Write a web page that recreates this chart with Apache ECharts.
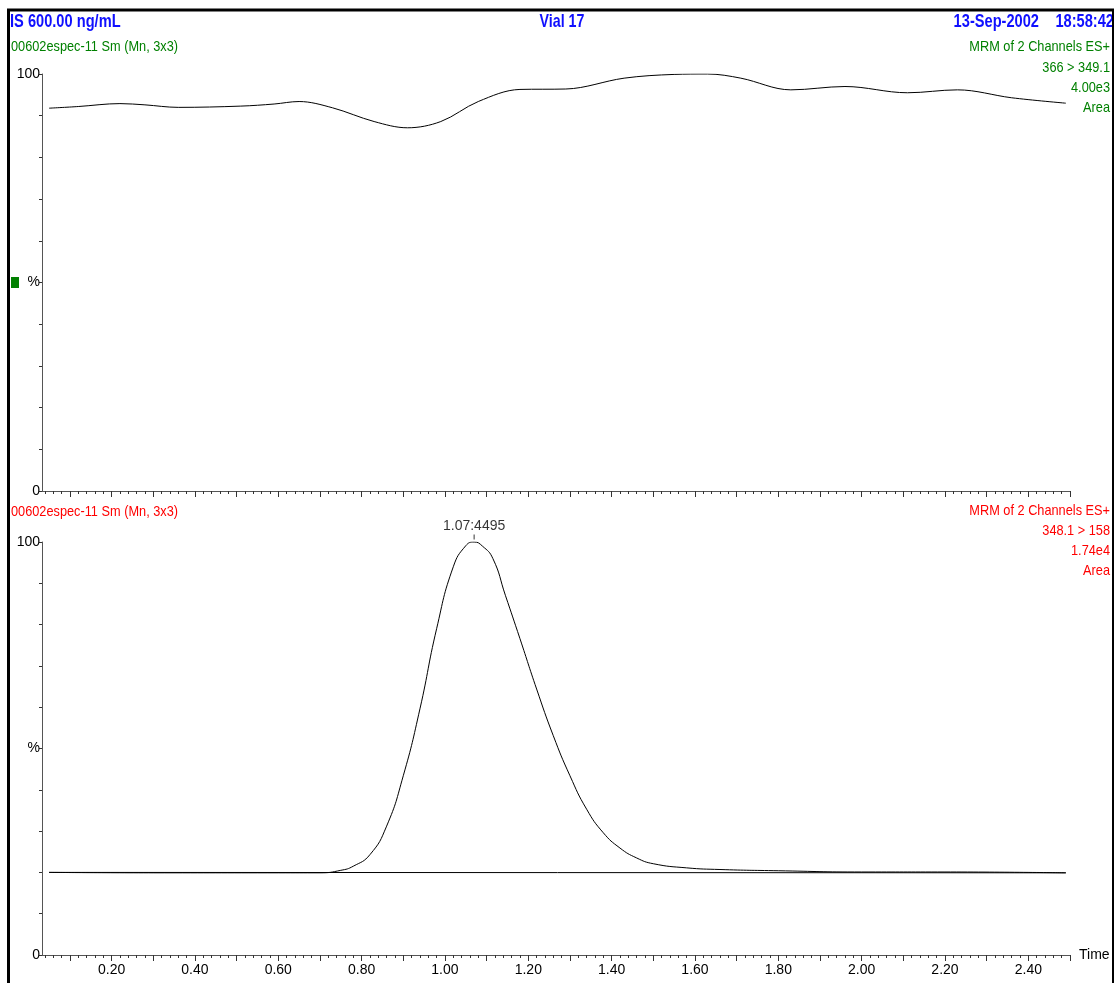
<!DOCTYPE html>
<html>
<head>
<meta charset="utf-8">
<script src="https://cdn.jsdelivr.net/npm/echarts@6/dist/echarts.min.js"></script>
<style>html,body{margin:0;padding:0;background:#fff}#chart{width:1114px;height:983px}</style>
</head>
<body>
<div id="chart"></div>
<script>
// ---- data ----
var topTimes  = [0.05, 0.12, 0.22, 0.28, 0.36, 0.51, 0.59, 0.65, 0.73, 0.83, 0.91, 0.99, 1.08, 1.18, 1.29, 1.43, 1.55, 1.63, 1.71, 1.83, 1.96, 2.11, 2.23, 2.36, 2.49];
var topValues = [91.8, 92.2, 92.9, 92.6, 92.0, 92.3, 92.8, 93.4, 91.9, 88.6, 87.1, 88.6, 93.4, 96.3, 96.4, 99.0, 99.9, 100, 99.0, 96.2, 97.0, 95.5, 96.2, 94.3, 93.0];

var botTimes  = [0.05, 0.30, 0.60, 0.70, 0.75, 0.78, 0.82, 0.86, 0.90, 0.94, 0.98, 1.02, 1.05, 1.07, 1.09, 1.115, 1.145, 1.18, 1.22, 1.26, 1.30, 1.34, 1.38, 1.42, 1.46, 1.50, 1.58, 1.66, 1.80, 2.00, 2.20, 2.49];
var botValues = [20.0, 19.9, 19.9, 19.9, 20.5, 21.5, 24.3, 31.2, 43.4, 59.6, 79.0, 94.0, 99.1, 100, 99.0, 96.0, 87.1, 76.6, 64.4, 53.1, 43.4, 35.3, 29.6, 25.9, 23.5, 22.1, 21.1, 20.7, 20.4, 20.1, 20.1, 19.9];

var baseTimes  = [0.05, 2.49];
var baseValues = [20.0, 19.9];

var peakTime = 1.07, peakValue = 100;
var peakLabel = '1.07:4495';
var xLabelValues = [0.20, 0.40, 0.60, 0.80, 1.00, 1.20, 1.40, 1.60, 1.80, 2.00, 2.20, 2.40];
var yLabelText = {0: '0', 50: '%', 100: '100'};

var topHeader = {left: 'IS 600.00 ng/mL', center: 'Vial 17', date: '13-Sep-2002', time: '18:58:42'};
var topSub = '00602espec-11 Sm (Mn, 3x3)';
var topRight = ['MRM of 2 Channels ES+', '366 > 349.1', '4.00e3', 'Area'];
var botSub = '00602espec-11 Sm (Mn, 3x3)';
var botRight = ['MRM of 2 Channels ES+', '348.1 > 158', '1.74e4', 'Area'];

// ---- helpers ----
var FONT = "'Liberation Sans',Arial,sans-serif";
var X_MIN = 0.033, X_MAX = 2.50;
var majorTicks = [], minorTicks = [];
for (var k = 1; k <= 25; k++) majorTicks.push(+(k * 0.1).toFixed(2));
for (var m = 2; m <= 125; m++) minorTicks.push(+(m * 0.02).toFixed(2));

function pairs(ts, vs) { return ts.map(function (t, i) { return [t, vs[i]]; }); }

var AX = '#555';
function mainX(gi, showLabels, name) {
  return {
    type: 'value', gridIndex: gi, min: X_MIN, max: X_MAX, position: 'bottom',
    axisLine: {show: true, onZero: false, lineStyle: {color: AX, width: 1}},
    axisTick: {show: true, length: 6, customValues: majorTicks, lineStyle: {color: '#333'}},
    axisLabel: {show: showLabels, customValues: xLabelValues, margin: 8,
      formatter: function (v) { return v.toFixed(2); },
      color: '#000', fontFamily: FONT, fontSize: 14},
    splitLine: {show: false},
    name: name || '', nameLocation: 'end', nameGap: 9,
    nameTextStyle: {color: '#000', fontFamily: FONT, fontSize: 14, verticalAlign: 'middle'}
  };
}
function minorX(gi) {
  return {
    type: 'value', gridIndex: gi, min: X_MIN, max: X_MAX, position: 'bottom',
    axisLine: {show: false, onZero: false},
    axisTick: {show: true, length: 3, customValues: minorTicks, lineStyle: {color: '#333'}},
    axisLabel: {show: false}, splitLine: {show: false}
  };
}
function yAx(gi) {
  return {
    type: 'value', gridIndex: gi, min: 0, max: 100, interval: 10,
    axisLine: {show: true, lineStyle: {color: AX, width: 1}},
    axisTick: {show: true, length: 3, lineStyle: {color: '#333'}},
    axisLabel: {show: true, margin: 2, color: '#000', fontFamily: FONT, fontSize: 14,
      formatter: function (v) { return yLabelText[v] !== undefined ? yLabelText[v] : ''; }},
    splitLine: {show: false}
  };
}

function txt(x, y, s, color, size, align, bold, sx) {
  return {type: 'text', x: x, y: y, z: 10, scaleX: sx, scaleY: 1,
    style: {text: s, fill: color, font: (bold ? 'bold ' : '') + size + 'px ' + FONT,
      align: align, verticalAlign: 'middle'}};
}
var BLUE = '#1010ff', GREEN = '#008000', RED = '#ff0000';
var RX = 1110, SB = 0.77, SR = 0.85;
var graphics = [
  txt(10, 22, topHeader.left, BLUE, 19, 'left', true, SB),
  txt(562, 22, topHeader.center, BLUE, 19, 'center', true, 0.75),
  txt(1039, 22, topHeader.date, BLUE, 19, 'right', true, SB),
  txt(1114, 22, topHeader.time, BLUE, 19, 'right', true, SB),
  txt(11, 47, topSub, GREEN, 15, 'left', false, SR),
  txt(RX, 47, topRight[0], GREEN, 15, 'right', false, SR),
  txt(RX, 68, topRight[1], GREEN, 15, 'right', false, SR),
  txt(RX, 88, topRight[2], GREEN, 15, 'right', false, SR),
  txt(RX, 108, topRight[3], GREEN, 15, 'right', false, SR),
  txt(11, 512, botSub, RED, 15, 'left', false, SR),
  txt(RX, 511, botRight[0], RED, 15, 'right', false, SR),
  txt(RX, 531, botRight[1], RED, 15, 'right', false, SR),
  txt(RX, 551, botRight[2], RED, 15, 'right', false, SR),
  txt(RX, 571, botRight[3], RED, 15, 'right', false, SR),
  {type: 'rect', z: 10, shape: {x: 11, y: 277, width: 8, height: 11}, style: {fill: GREEN}},
  {type: 'rect', z: 20, shape: {x: 8.5, y: 10, width: 1105, height: 1000},
    style: {fill: 'none', stroke: '#000', lineWidth: 3}}
];

var chart = echarts.init(document.getElementById('chart'), null, {renderer: 'canvas'});
chart.setOption({
  animation: false,
  backgroundColor: '#fff',
  grid: [
    {left: 42, top: 74, width: 1028, height: 417},
    {left: 42, top: 542, width: 1028, height: 413}
  ],
  xAxis: [mainX(0, false), minorX(0), mainX(1, true, 'Time'), minorX(1)],
  yAxis: [yAx(0), yAx(1)],
  graphic: graphics,
  series: [
    {type: 'line', xAxisIndex: 0, yAxisIndex: 0, data: pairs(topTimes, topValues),
      smooth: 0.35, symbol: 'none', lineStyle: {color: '#000', width: 1}},
    {type: 'line', xAxisIndex: 2, yAxisIndex: 1, data: pairs(botTimes, botValues),
      smooth: 0.5, symbol: 'none', lineStyle: {color: '#000', width: 1}},
    {type: 'line', xAxisIndex: 2, yAxisIndex: 1, data: pairs(baseTimes, baseValues),
      symbol: 'none', lineStyle: {color: '#000', width: 1}},
    {type: 'scatter', xAxisIndex: 2, yAxisIndex: 1, data: [[peakTime, peakValue]],
      symbol: 'rect', symbolSize: [1, 5], symbolOffset: [0, -5],
      itemStyle: {color: '#000'}, silent: true,
      label: {show: true, position: 'top', distance: 1, formatter: peakLabel,
        color: '#000', fontFamily: FONT, fontSize: 14}}
  ]
});
</script>
</body>
</html>
